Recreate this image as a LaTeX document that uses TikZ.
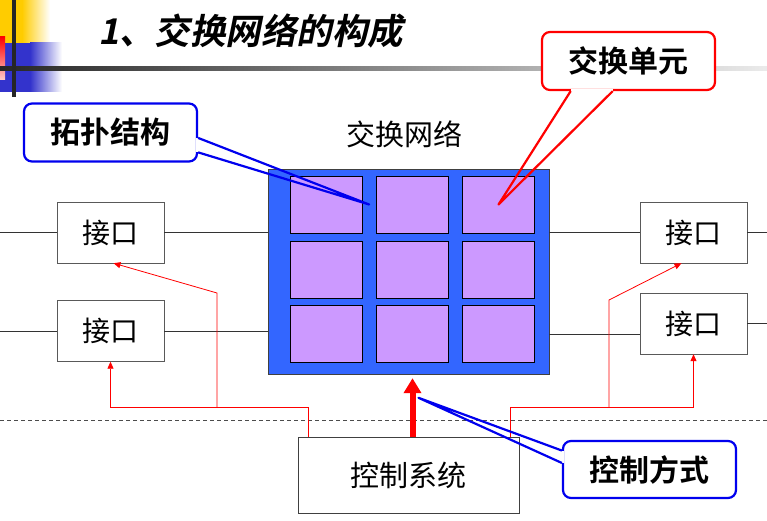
\documentclass[tikz,border=0pt]{standalone}
\usepackage{fontspec}
\newfontfamily\cjk{Noto Sans CJK SC}
\newfontfamily\cjkbold{Noto Sans CJK SC Bold}
\newfontfamily\cjktitle[FakeSlant=0.2]{Noto Sans CJK SC Bold}
\usetikzlibrary{calc,arrows.meta}

\definecolor{netblue}{HTML}{3366FF}
\definecolor{cellpurple}{HTML}{CC99FF}
\definecolor{baryellow}{HTML}{FFCC00}
\definecolor{barblue}{HTML}{3333CC}
\definecolor{tagblue}{HTML}{0000EE}

\begin{document}
\begin{tikzpicture}[
    x=1pt, y=-1pt,
    cellbox/.style={draw=black, fill=cellpurple, minimum width=72pt, minimum height=57pt, inner sep=0pt},
    portbox/.style={draw=black!65, fill=white, minimum width=107pt, minimum height=61pt, inner sep=0pt, font=\cjk\fontsize{28}{28}\selectfont},
    tagbox/.style={draw, line width=2.2pt, rounded corners=8pt, fill=white, minimum width=173pt, minimum height=58pt, inner sep=0pt, font=\cjkbold\fontsize{30}{30}\selectfont},
    wire/.style={black!80, line width=0.8pt},
    ctl/.style={red, line width=0.8pt},
    ctlarr/.style={ctl, -{Triangle[length=7pt, width=6pt]}},
    wedge/.style={line width=2.2pt, line join=round}
]
    \useasboundingbox (0,0) rectangle (767,521);
    \fill[white] (0,0) rectangle (767,521);

    % Corner decoration and header rule
    \fill[baryellow] (0,0) rectangle (22,43);
    \shade[left color=baryellow, right color=white] (22,0) rectangle (50,43);
    \fill[barblue] (0,43) rectangle (30,92);
    \shade[left color=barblue, right color=white] (30,43) rectangle (62,92);
    \shade[top color=red, bottom color=red!20] (0,37) rectangle (5,80);
    \shade[left color=black!85, right color=black!8] (0,67) rectangle (767,71);
    \fill[black!85] (12,0) rectangle (16,97);

    % Title
    \node[anchor=west, inner sep=0pt, font=\cjktitle\fontsize{35.5}{35.5}\selectfont] (title) at (98,31) {1、交换网络的构成};

    % Separator
    \draw[black!70, dash pattern=on 4pt off 3pt] (0,420) -- (767,420);

    % Switching network
    \node[draw=black!75, fill=netblue, minimum width=281pt, minimum height=205pt, inner sep=0pt] (net) at (408.5,271.5) {};
    \node[font=\cjk\fontsize{29}{29}\selectfont] (netlbl) at (404,134) {交换网络};
    \foreach \r in {0,1,2}
      \foreach \c in {0,1,2}
        \node[cellbox] (c\r\c) at (326+86.25*\c, 204.5+64.75*\r) {};

    % Interfaces
    \node[portbox] (lp1) at (110.5,232.5) {接口};
    \node[portbox] (lp2) at (110.5,331) {接口};
    \node[portbox] (rp1) at (693.5,232.5) {接口};
    \node[portbox] (rp2) at (693.5,323.5) {接口};
    \coordinate (rp2in) at ($(rp2.west)+(0,10.5)$);

    \draw[wire] (0,0 |- lp1.west) -- (lp1.west);
    \draw[wire] (lp1.east) -- (lp1.east -| net.west);
    \draw[wire] (0,0 |- lp2.west) -- (lp2.west);
    \draw[wire] (lp2.east) -- (lp2.east -| net.west);
    \draw[wire] (net.east |- rp1.west) -- (rp1.west);
    \draw[wire] (rp1.east) -- (767,0 |- rp1.east);
    \draw[wire] (net.east |- rp2in) -- (rp2in);
    \draw[wire] (rp2.east) -- (767,0 |- rp2.east);

    % Control system
    \node[draw=black!75, fill=white, minimum width=221pt, minimum height=76pt, font=\cjk\fontsize{29}{29}\selectfont] (ctrl) at (408.5,475) {控制系统};

    % Control lines
    \coordinate (lrise) at ($(ctrl.north west)+(11,0)$);
    \coordinate (rrise) at ($(ctrl.north east)+(-9,0)$);
    \coordinate (lfork) at (217,407);
    \coordinate (lknee) at (217,293);
    \coordinate (rfork) at (609,407);
    \coordinate (rknee) at (609,300);
    \coordinate (rp1in) at ($(rp1.south)+(-12,0)$);
    \coordinate (lp1in) at ($(lp1.south)+(3,0)$);

    \draw[ctlarr] (lrise) -- (lrise |- lfork) -| (lp2.south);
    \draw[ctlarr] (lfork) -- (lknee) -- (lp1in);
    \draw[ctlarr] (rrise) -- (rrise |- rfork) -| (rp2.south);
    \draw[ctlarr] (rfork) -- (rknee) -- (rp1in);

    \draw[red, line width=6pt, -{Triangle[length=15pt, width=17pt]}] ($(ctrl.north)+(4,0)$) -- ($(net.south)+(4,4)$);

    % Callouts
    \node[tagbox, draw=red] (unittag) at (628.5,61) {交换单元};
    \node[tagbox, draw=tagblue] (topotag) at (110.5,132.5) {拓扑结构};
    \node[tagbox, draw=tagblue, minimum height=57pt] (modetag) at (649.5,469.5) {控制方式};

    \coordinate (ua) at ($(unittag.south west)!0.17!(unittag.south east)$);
    \coordinate (ub) at ($(unittag.south west)!0.41!(unittag.south east)$);
    \fill[white] ($(ua)+(0,-2)$) rectangle ($(ub)+(0,2)$);
    \draw[wedge, red] (ua) -- (c02.center) -- (ub);

    \coordinate (ta) at ($(topotag.north east)!0.59!(topotag.south east)$);
    \coordinate (tb) at ($(topotag.north east)!0.83!(topotag.south east)$);
    \coordinate (topotip) at ($(c00.east)!0.5!(c01.west)$);
    \fill[white] ($(ta)+(-2,0)$) rectangle ($(tb)+(2,0)$);
    \draw[wedge, tagblue] (ta) -- (topotip) -- (tb);

    \coordinate (ma) at ($(modetag.north west)!0.18!(modetag.south west)$);
    \coordinate (mb) at ($(modetag.north west)!0.39!(modetag.south west)$);
    \coordinate (modetip) at ($(ctrl.north)+(10,-39)$);
    \fill[white] ($(ma)+(-2,0)$) rectangle ($(mb)+(2,0)$);
    \draw[wedge, tagblue] (ma) -- (modetip) -- (mb);
\end{tikzpicture}
\end{document}
